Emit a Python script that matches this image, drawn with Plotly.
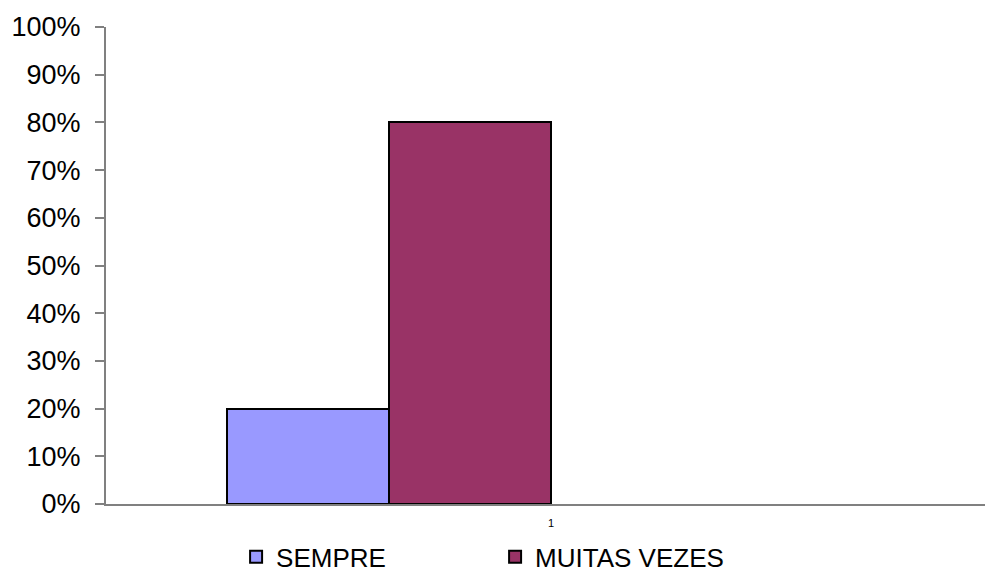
import plotly.graph_objects as go

categories = ["1"]
series_names = ["SEMPRE", "MUITAS VEZES"]
sempre = [0.20]
muitas_vezes = [0.80]
y_ticks = [0, 0.1, 0.2, 0.3, 0.4, 0.5, 0.6, 0.7, 0.8, 0.9, 1.0]
y_tick_labels = ["0%", "10%", "20%", "30%", "40%", "50%", "60%", "70%", "80%", "90%", "100%"]

colors = ["#9999FF", "#993366"]
bar_w = 0.182
offsets = [-2 * bar_w, -bar_w]

fig = go.Figure()
for name, vals, col, off in zip(series_names, [sempre, muitas_vezes], colors, offsets):
    fig.add_trace(go.Bar(
        x=categories, y=vals, name=name,
        marker=dict(color=col, line=dict(color="black", width=2)),
        width=bar_w, offset=off,
    ))

fig.update_layout(
    width=985, height=574,
    margin=dict(l=106, r=0, t=27, b=70, autoexpand=False),
    plot_bgcolor="white", paper_bgcolor="white",
    font=dict(family="Liberation Sans, Arial, sans-serif", color="black"),
    showlegend=True,
    legend=dict(orientation="h", x=0.148, xanchor="left", y=-0.111, yanchor="middle",
                font=dict(size=26), entrywidth=214, bgcolor="rgba(0,0,0,0)",
                itemclick=False),
    bargap=0,
)
fig.update_xaxes(
    type="category", range=[-0.5, 0.4876],
    showline=True, linecolor="#808080", linewidth=2,
    ticks="", tickfont=dict(size=11), ticklabelstandoff=8,
    showgrid=False, zeroline=False,
)
fig.update_yaxes(
    range=[0, 1], tickvals=y_ticks, ticktext=y_tick_labels,
    showline=True, linecolor="#808080", linewidth=2,
    ticks="outside", ticklen=9, tickcolor="#808080", tickwidth=2,
    tickfont=dict(size=27), ticklabelstandoff=9,
    showgrid=False, zeroline=False,
)

fig.write_html(
    "out.html",
    config={"displayModeBar": False},
    post_script="document.body.style.margin='0';document.body.style.overflow='hidden';",
)
